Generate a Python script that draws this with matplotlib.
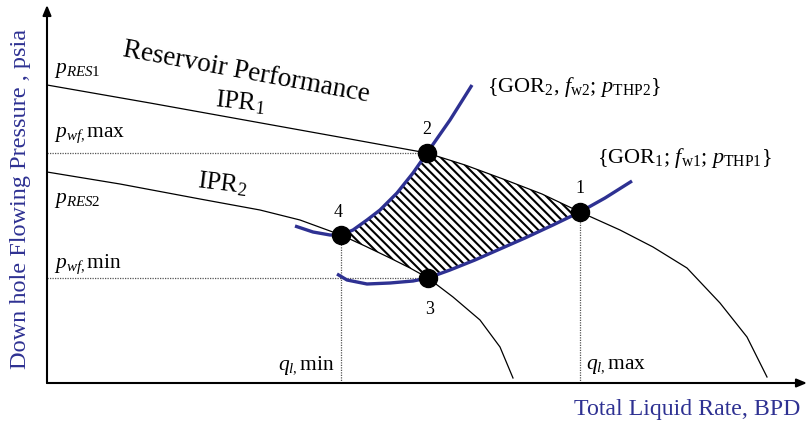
import numpy as np
import matplotlib.pyplot as plt
from matplotlib.patches import Polygon

plt.rcParams['font.family'] = ['Liberation Serif', 'DejaVu Serif']
plt.rcParams['mathtext.fontset'] = 'custom'
plt.rcParams['mathtext.rm'] = 'Liberation Serif'
plt.rcParams['mathtext.it'] = 'Liberation Serif:italic'
plt.rcParams['mathtext.bf'] = 'Liberation Serif:bold'
plt.rcParams['hatch.linewidth'] = 1.5

# ---------------------------------------------------------
# curves (rate in BPD, pressure in psia, schematic values)
# ---------------------------------------------------------
ipr1_q = [0, 1030, 2030, 3030, 3800, 4180, 4560, 4950, 5330, 5730, 6060, 6400, 6730, 7000, 7200]
ipr1_p = [2980, 2800, 2620, 2440, 2300, 2180, 2040, 1890, 1710, 1530, 1360, 1150, 800, 460, 60]

ipr2_q = [0, 730, 1530, 2130, 2530, 2940, 3180, 3430, 3630, 3810, 4060, 4330, 4530, 4660]
ipr2_p = [2110, 1990, 1840, 1730, 1630, 1480, 1370, 1250, 1150, 1050, 860, 630, 360, 50]

# tubing curves {GOR2, fw2, pTHP2} and {GOR1, fw1, pTHP1}
tpr2_q = [2480, 2660, 2830, 2940, 3060, 3200, 3330, 3500, 3660, 3800, 4030, 4250]
tpr2_p = [1570, 1510, 1480, 1480, 1530, 1630, 1730, 1900, 2100, 2300, 2630, 2980]

tpr1_q = [2900, 3000, 3200, 3430, 3660, 3810, 4030, 4280, 4530, 4780, 5060, 5330, 5580, 5850]
tpr1_p = [1090, 1030, 990, 1000, 1020, 1050, 1130, 1230, 1340, 1450, 1580, 1710, 1850, 2020]

# operating points 1..4
op_labels = ['1', '2', '3', '4']
op_q = [5330, 3800, 3810, 2940]
op_p = [1710, 2300, 1050, 1480]

blue = '#2E3192'

fig = plt.figure(figsize=(8.08, 4.26), dpi=100)
ax = fig.add_axes([0, 0, 1, 1])
ax.set_xlim(-470, 7610)
ax.set_ylim(-430, 3830)
ax.axis('off')

# axes with arrows
ax.annotate('', xy=(7600, 0), xytext=(0, 0),
            arrowprops=dict(arrowstyle='-|>,head_length=0.6,head_width=0.25', color='black', lw=1.5,
                            shrinkA=0, shrinkB=0))
ax.annotate('', xy=(0, 3780), xytext=(0, 0),
            arrowprops=dict(arrowstyle='-|>,head_length=0.6,head_width=0.25', color='black', lw=1.5,
                            shrinkA=0, shrinkB=0))

# hatched operating window
q1, q2, q3, q4 = op_q[0], op_q[1], op_q[2], op_q[3]
i1q, i1p = np.array(ipr1_q), np.array(ipr1_p)
i2q, i2p = np.array(ipr2_q), np.array(ipr2_p)
t1q, t1p = np.array(tpr1_q), np.array(tpr1_p)
t2q, t2p = np.array(tpr2_q), np.array(tpr2_p)
m = (i1q >= q2) & (i1q <= q1)
top = list(zip(i1q[m], i1p[m]))
m = (t1q >= q3) & (t1q <= q1)
right = list(zip(t1q[m], t1p[m]))[::-1]
m = (i2q >= q4) & (i2q <= q3)
bottom = list(zip(i2q[m], i2p[m]))[::-1]
m = (t2q >= q4) & (t2q <= q2)
left = list(zip(t2q[m], t2p[m]))
window = Polygon(top + right + bottom + left, closed=True, fill=False,
                 hatch='\\\\\\\\', edgecolor='black', lw=0)
ax.add_patch(window)

# guide lines
dot = dict(color='#555555', lw=0.9, ls=(0, (1, 1)))
ax.plot([0, q2], [op_p[1], op_p[1]], **dot)
ax.plot([0, q3], [op_p[2], op_p[2]], **dot)
ax.plot([q4, q4], [0, op_p[3]], **dot)
ax.plot([q1, q1], [0, op_p[0]], **dot)

# IPR curves
ax.plot(ipr1_q, ipr1_p, color='black', lw=0.9)
ax.plot(ipr2_q, ipr2_p, color='black', lw=0.9)

# tubing curves
ax.plot(tpr1_q, tpr1_p, color=blue, lw=2.4, solid_capstyle='butt')
ax.plot(tpr2_q, tpr2_p, color=blue, lw=2.4, solid_capstyle='butt')

ax.plot(op_q, op_p, 'o', color='black', ms=13, zorder=5)
offsets = [(0, 240), (0, 240), (20, -310), (-30, 230)]
for lab, q, p, (dq, dp) in zip(op_labels, op_q, op_p, offsets):
    ax.text(q + dq, p + dp, lab, fontsize=13, ha='center', va='center')

# text
ax.text(1990, 3110, 'Reservoir Performance', fontsize=19.5, rotation=-10.5,
        ha='center', va='center')
ax.text(1930, 2810, r'IPR$_{\mathit{1}}$', fontsize=18.5, rotation=-6, ha='center', va='center')
ax.text(1750, 1990, r'IPR$_{\mathit{2}}$', fontsize=18.5, rotation=-7, ha='center', va='center')

ax.text(70, 3130, r'$p_{RES1}$', fontsize=15.5, ha='left', va='center')
ax.text(70, 2480, r'$p_{wf,}$max', fontsize=15.5, ha='left', va='center')
ax.text(70, 1830, r'$p_{RES2}$', fontsize=15.5, ha='left', va='center')
ax.text(70, 1190, r'$p_{wf,}$min', fontsize=15.5, ha='left', va='center')
ax.text(q4 - 70, 170, r'$q_{l,}$min', fontsize=15.5, ha='right', va='center')
ax.text(q1 + 60, 170, r'$q_{l,}$max', fontsize=15.5, ha='left', va='center')

ax.text(4400, 2960, r'{GOR$_2$, $f_{\rm w2}$; $p_{\rm THP2}$}', fontsize=16,
        ha='left', va='center')
ax.text(5500, 2250, r'{GOR$_1$; $f_{\rm w1}$; $p_{\rm THP1}$}', fontsize=16,
        ha='left', va='center')

ax.text(-265, 1840, 'Down hole Flowing Pressure , psia', fontsize=17.5, color=blue,
        rotation=90, ha='center', va='center')
ax.text(7530, -270, 'Total Liquid Rate, BPD', fontsize=17.2, color=blue,
        ha='right', va='center')

fig.savefig('out.png', dpi=100)
